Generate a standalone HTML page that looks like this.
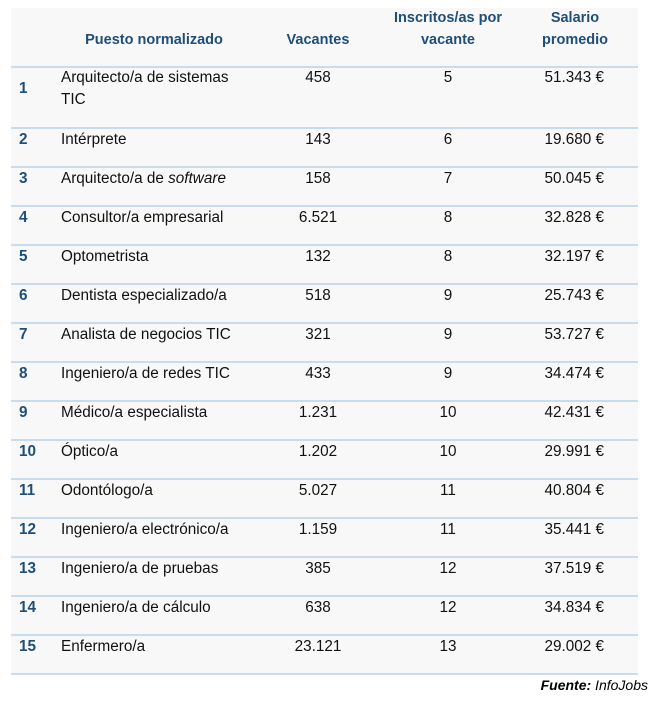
<!DOCTYPE html>
<html><head><meta charset="utf-8"><style>
body{margin:0;width:652px;height:704px;background:#fff;font-family:"Liberation Sans",sans-serif;position:relative;overflow:hidden}
#bg{position:absolute;left:11px;top:8px;width:627px;height:666px;background:#f8f8f8}
.h{position:absolute;color:#1f4e79;font-weight:bold;font-size:14.5px;text-align:center;line-height:22px;letter-spacing:0}
.line{position:absolute;left:11px;width:627px;height:2px;background:#c9dcec}
.r{position:absolute;left:0;width:652px;height:22px;font-size:15.3px;color:#111;line-height:22px;letter-spacing:0}
.r span{position:absolute;top:0}
.n{left:19px;color:#1f4e79;font-weight:bold}
.p{left:61px}
.v{left:278px;width:80px;text-align:center}
.i{left:408px;width:80px;text-align:center}
.s{left:494px;width:110px;text-align:right}
.f{position:absolute;right:4px;top:677px;font-size:14px;font-style:italic}
</style></head><body>
<div id="bg"></div>
<div class="h" style="left:54px;top:29px;width:200px">Puesto normalizado</div>
<div class="h" style="left:268px;top:29px;width:100px">Vacantes</div>
<div class="h" style="left:378px;top:7px;width:140px">Inscritos/as por<br>vacante</div>
<div class="h" style="left:530px;top:7px;width:90px">Salario<br>promedio</div>
<div class="line" style="top:66px"></div>
<div class="r" style="top:67px"><span class="n" style="top:11px">1</span><span class="p">Arquitecto/a de sistemas<br>TIC</span><span class="v">458</span><span class="i">5</span><span class="s">51.343 €</span></div>
<div class="line" style="top:127px"></div>
<div class="r" style="top:129px"><span class="n">2</span><span class="p">Intérprete</span><span class="v">143</span><span class="i">6</span><span class="s">19.680 €</span></div>
<div class="line" style="top:166px"></div>
<div class="r" style="top:168px"><span class="n">3</span><span class="p">Arquitecto/a de <i>software</i></span><span class="v">158</span><span class="i">7</span><span class="s">50.045 €</span></div>
<div class="line" style="top:205px"></div>
<div class="r" style="top:207px"><span class="n">4</span><span class="p">Consultor/a empresarial</span><span class="v">6.521</span><span class="i">8</span><span class="s">32.828 €</span></div>
<div class="line" style="top:244px"></div>
<div class="r" style="top:246px"><span class="n">5</span><span class="p">Optometrista</span><span class="v">132</span><span class="i">8</span><span class="s">32.197 €</span></div>
<div class="line" style="top:283px"></div>
<div class="r" style="top:285px"><span class="n">6</span><span class="p">Dentista especializado/a</span><span class="v">518</span><span class="i">9</span><span class="s">25.743 €</span></div>
<div class="line" style="top:322px"></div>
<div class="r" style="top:324px"><span class="n">7</span><span class="p">Analista de negocios TIC</span><span class="v">321</span><span class="i">9</span><span class="s">53.727 €</span></div>
<div class="line" style="top:361px"></div>
<div class="r" style="top:363px"><span class="n">8</span><span class="p">Ingeniero/a de redes TIC</span><span class="v">433</span><span class="i">9</span><span class="s">34.474 €</span></div>
<div class="line" style="top:400px"></div>
<div class="r" style="top:402px"><span class="n">9</span><span class="p">Médico/a especialista</span><span class="v">1.231</span><span class="i">10</span><span class="s">42.431 €</span></div>
<div class="line" style="top:439px"></div>
<div class="r" style="top:441px"><span class="n">10</span><span class="p">Óptico/a</span><span class="v">1.202</span><span class="i">10</span><span class="s">29.991 €</span></div>
<div class="line" style="top:478px"></div>
<div class="r" style="top:480px"><span class="n">11</span><span class="p">Odontólogo/a</span><span class="v">5.027</span><span class="i">11</span><span class="s">40.804 €</span></div>
<div class="line" style="top:517px"></div>
<div class="r" style="top:519px"><span class="n">12</span><span class="p">Ingeniero/a electrónico/a</span><span class="v">1.159</span><span class="i">11</span><span class="s">35.441 €</span></div>
<div class="line" style="top:556px"></div>
<div class="r" style="top:558px"><span class="n">13</span><span class="p">Ingeniero/a de pruebas</span><span class="v">385</span><span class="i">12</span><span class="s">37.519 €</span></div>
<div class="line" style="top:595px"></div>
<div class="r" style="top:597px"><span class="n">14</span><span class="p">Ingeniero/a de cálculo</span><span class="v">638</span><span class="i">12</span><span class="s">34.834 €</span></div>
<div class="line" style="top:634px"></div>
<div class="r" style="top:636px"><span class="n">15</span><span class="p">Enfermero/a</span><span class="v">23.121</span><span class="i">13</span><span class="s">29.002 €</span></div>
<div class="line" style="top:673px"></div>
<div class="f"><b>Fuente:</b> InfoJobs</div>
</body></html>
